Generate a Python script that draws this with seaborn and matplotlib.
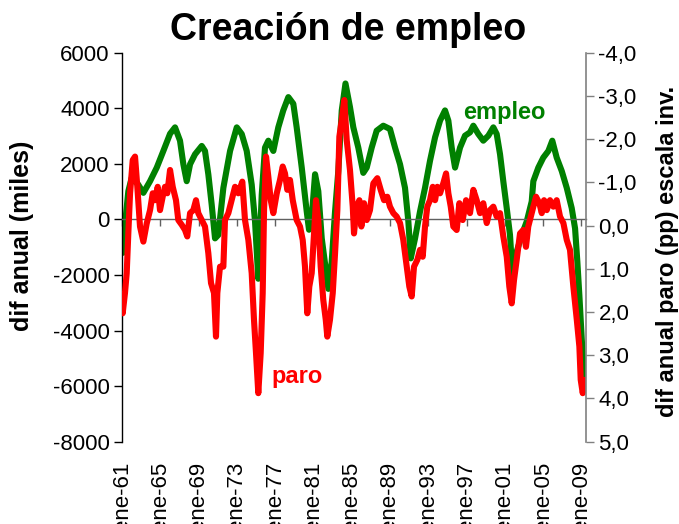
import matplotlib
matplotlib.use("Agg")
import matplotlib.pyplot as plt
import seaborn as sns
import pandas as pd

# ---------------- data ----------------
emp_t = [1961.00, 1961.10, 1961.31, 1961.66, 1962.01, 1962.67, 1963.23, 1963.93, 1964.63, 1965.32,
         1966.02, 1966.54, 1967.06, 1967.41, 1967.76, 1968.11, 1968.63, 1969.33, 1969.67, 1970.02,
         1970.37, 1970.72, 1971.06, 1971.59, 1972.29, 1972.99, 1973.51, 1974.03, 1974.55, 1974.90,
         1975.24, 1975.60, 1975.94, 1976.29, 1976.81, 1977.33, 1977.85, 1978.38, 1978.90, 1979.25,
         1979.78, 1980.30, 1980.54, 1980.82, 1981.17, 1981.51, 1981.87, 1982.56, 1982.91, 1983.26,
         1983.60, 1983.96, 1984.35, 1984.82, 1985.17, 1985.69, 1986.21, 1986.57, 1987.09, 1987.61,
         1988.30, 1989.00, 1989.53, 1990.05, 1990.57, 1990.92, 1991.17, 1991.62, 1992.14, 1992.66,
         1993.18, 1993.71, 1994.23, 1994.75, 1995.10, 1995.45, 1995.80, 1996.32, 1996.84, 1997.36,
         1997.71, 1998.23, 1998.75, 1999.28, 1999.80, 2000.15, 2000.50, 2000.84, 2001.20, 2001.54,
         2001.83, 2002.24, 2002.77, 2003.29, 2003.81, 2003.98, 2004.50, 2005.02, 2005.55, 2005.96,
         2006.42, 2006.95, 2007.47, 2007.99, 2008.34, 2008.58, 2008.79, 2009.04, 2009.28, 2009.38]
emp_v = [-1000, -1200, -180, 1020, 1500, 1270, 960, 1380, 1870, 2470,
         3090, 3320, 2840, 1990, 1380, 1990, 2350, 2650, 2470, 1625,
         535, -680, -556, 1140, 2470, 3320, 3080, 2470, 1260, -73,
         -2135, 900, 2590, 2840, 2470, 3320, 3930, 4410, 4170, 3320,
         1870, 290, -370, 50, 1630, 1020, -680, -2500, -1530, 290,
         1745, 3930, 4900, 4050, 3320, 2590, 1680, 1870, 2590, 3200,
         3380, 3260, 2590, 1990, 1140, -70, -1400, -680, 290, 1140,
         2110, 2960, 3560, 3930, 3560, 2590, 1870, 2590, 3020, 3140,
         3380, 3080, 2840, 3020, 3320, 3080, 2350, 1380, 410, -556,
         -2135, -1160, -556, -70, 650, 1380, 1870, 2230, 2470, 2840,
         2230, 1745, 1140, 410, -320, -1530, -2740, -4320, -5650, -5900]

paro_t = [1961.00, 1961.07, 1961.31, 1961.49, 1961.66, 1961.84, 1962.12, 1962.36, 1962.60, 1962.88,
          1963.23, 1963.58, 1963.93, 1964.21, 1964.45, 1964.73, 1964.97, 1965.25, 1965.49, 1965.73,
          1966.02, 1966.30, 1966.64, 1966.88, 1967.24, 1967.58, 1967.82, 1968.11, 1968.45, 1968.73,
          1968.97, 1969.33, 1969.67, 1970.02, 1970.30, 1970.61, 1970.82, 1970.96, 1971.24, 1971.59,
          1971.76, 1972.11, 1972.46, 1972.81, 1973.15, 1973.57, 1973.85, 1974.20, 1974.55, 1974.79,
          1975.00, 1975.24, 1975.49, 1975.70, 1975.84, 1976.05, 1976.29, 1976.54, 1976.81, 1977.17,
          1977.51, 1977.79, 1978.03, 1978.27, 1978.55, 1978.84, 1979.25, 1979.60, 1979.88, 1980.12,
          1980.36, 1980.57, 1980.82, 1981.06, 1981.27, 1981.51, 1981.76, 1982.03, 1982.29, 1982.45,
          1982.73, 1983.02, 1983.26, 1983.50, 1983.71, 1983.96, 1984.23, 1984.48, 1984.82, 1985.11,
          1985.24, 1985.52, 1985.80, 1986.01, 1986.29, 1986.57, 1986.91, 1987.26, 1987.68, 1988.03,
          1988.38, 1988.72, 1989.00, 1989.35, 1989.70, 1990.05, 1990.39, 1990.75, 1991.02, 1991.27,
          1991.51, 1991.86, 1992.14, 1992.42, 1992.66, 1992.90, 1993.18, 1993.47, 1993.71, 1993.95,
          1994.23, 1994.57, 1994.86, 1995.10, 1995.35, 1995.62, 1995.97, 1996.25, 1996.60, 1996.95,
          1997.36, 1997.71, 1998.06, 1998.41, 1998.75, 1999.11, 1999.45, 1999.80, 2000.15, 2000.50,
          2000.84, 2001.20, 2001.47, 2001.72, 2001.96, 2002.24, 2002.59, 2002.93, 2003.21, 2003.45,
          2003.71, 2003.98, 2004.26, 2004.61, 2004.86, 2005.10, 2005.38, 2005.72, 2006.07, 2006.42,
          2006.77, 2007.12, 2007.47, 2007.81, 2008.16, 2008.52, 2008.79, 2008.93, 2009.14, 2009.38]
paro_v = [1.60, 2.03, 1.56, 1.10, 0.17, -0.75, -1.52, -1.60, -0.90, 0.02,
          0.37, -0.05, -0.36, -0.75, -0.59, -0.90, -0.36, -0.67, -0.90, -0.75,
          -1.29, -0.90, -0.59, -0.13, -0.02, 0.10, 0.25, -0.29, -0.36, -0.59,
          -0.29, -0.13, 0.02, 0.64, 1.33, 1.56, 2.57, 1.56, 0.95, 0.95,
          -0.13, -0.29, -0.59, -0.90, -0.75, -1.02, -0.13, 0.33, 1.10, 2.18,
          2.95, 3.88, 2.95, 1.56, -0.36, -1.60, -1.13, -0.59, -0.29, -0.75,
          -1.06, -1.37, -1.21, -0.83, -1.06, -0.59, -0.13, 0.02, 0.33, 0.95,
          2.03, 1.41, 1.10, 0.18, -0.59, -0.13, 0.95, 1.72, 2.18, 2.57,
          2.18, 1.56, 0.64, -0.36, -2.06, -2.45, -2.91, -1.98, -1.29, -0.44,
          0.18, -0.44, -0.59, 0.02, -0.52, -0.13, -0.36, -0.98, -1.10, -0.83,
          -0.59, -0.67, -0.44, -0.29, -0.21, -0.06, 0.33, 0.95, 1.41, 1.64,
          0.95, 0.79, 0.56, 0.72, 0.02, -0.44, -0.59, -0.90, -0.59, -0.90,
          -0.75, -0.98, -1.21, -0.75, -0.44, 0.02, 0.10, -0.52, -0.13, -0.59,
          -0.29, -0.83, -0.59, -0.29, -0.52, -0.06, -0.36, -0.44, -0.21, -0.29,
          0.25, 0.72, 1.41, 1.80, 1.26, 0.79, 0.18, 0.10, 0.49, 0.02,
          -0.21, -0.44, -0.67, -0.52, -0.29, -0.59, -0.36, -0.59, -0.44, -0.59,
          -0.21, -0.06, 0.33, 0.56, 1.41, 2.18, 2.80, 3.57, 3.88, 3.57]

year_ticks = [1961, 1965, 1969, 1973, 1977, 1981, 1985, 1989, 1993, 1997, 2001, 2005, 2009]
year_labels = ["ene-61", "ene-65", "ene-69", "ene-73", "ene-77", "ene-81", "ene-85",
               "ene-89", "ene-93", "ene-97", "ene-01", "ene-05", "ene-09"]
left_ticks = [6000, 4000, 2000, 0, -2000, -4000, -6000, -8000]
left_labels = ["6000", "4000", "2000", "0", "-2000", "-4000", "-6000", "-8000"]
right_ticks = [-4, -3, -2, -1, 0, 1, 2, 3, 4, 5]
right_labels = ["-4,0", "-3,0", "-2,0", "-1,0", "0,0", "1,0", "2,0", "3,0", "4,0", "5,0"]

title = "Creación de empleo"
left_title = "dif anual (miles)"
right_title = "dif anual paro (pp) escala inv."

# ---------------- style ----------------
sns.set_style("white")
plt.rcParams['font.family'] = ['Liberation Sans', 'DejaVu Sans']
plt.rcParams['text.color'] = 'black'
plt.rcParams['axes.labelcolor'] = 'black'
plt.rcParams['xtick.color'] = 'black'
plt.rcParams['ytick.color'] = 'black'

GREEN = "#008000"
RED = "#FF0000"

fig = plt.figure(figsize=(6.79, 5.24), dpi=100)
ax = fig.add_axes([0.1797, 0.1574, 0.6833, 0.7415])
ax.set_facecolor("none")

emp_df = pd.DataFrame({"t": emp_t, "v": emp_v})
paro_df = pd.DataFrame({"t": paro_t, "v": paro_v})

sns.lineplot(data=emp_df, x="t", y="v", ax=ax, color=GREEN, linewidth=4.4,
             solid_joinstyle="round", solid_capstyle="round")
ax.set_xlim(1961, 2009.48)
ax.set_ylim(-8000, 6000)

ax2 = ax.twinx()
sns.lineplot(data=paro_df, x="t", y="v", ax=ax2, color=RED, linewidth=4.4,
             solid_joinstyle="round", solid_capstyle="round")
ax2.set_ylim(5, -4)
ax2.set_xlim(1961, 2009.48)

# left axis
ax.set_yticks(left_ticks, left_labels)
ax.tick_params(axis="y", direction="out", length=6, width=1, color="black",
               labelcolor="black", labelsize=16, pad=3, left=True)
for s in ["top", "right"]:
    ax.spines[s].set_visible(False)
ax.spines["left"].set_color("black")
ax.spines["left"].set_linewidth(1)
# zero line acting as category axis, with its tick marks
ax.spines["bottom"].set_position(("data", 0))
ax.spines["bottom"].set_color("#606060")
ax.spines["bottom"].set_linewidth(1)
ax.set_xticks(year_ticks)
ax.tick_params(axis="x", direction="out", length=5, width=1, color="#606060",
               labelbottom=False, bottom=True)
ax.set_xlabel("")
ax.set_ylabel(left_title, fontsize=18, fontweight="bold", color="black")
ax.yaxis.set_label_coords(-0.190, 0.53)

# right axis
ax2.set_yticks(right_ticks, right_labels)
ax2.tick_params(axis="y", direction="out", length=6, width=1, color="#808080",
                labelcolor="black", labelsize=16, pad=3, right=True)
for s in ["top", "left", "bottom"]:
    ax2.spines[s].set_visible(False)
ax2.spines["right"].set_color("#808080")
ax2.spines["right"].set_linewidth(1.2)
ax2.set_ylabel(right_title, fontsize=17, fontweight="bold", color="black")
ax2.yaxis.set_label_coords(1.150, 0.49)

# bottom labels (category labels at the foot of the plot)
ax2.xaxis.set_visible(True)
ax2.set_xticks(year_ticks, year_labels, rotation=90)
ax2.tick_params(axis="x", length=0, labelsize=16, labelcolor="black", pad=14.5,
                bottom=True, labelbottom=True)
ax2.set_xlabel("")

# series labels
ax.text(2000.9, 3850, "empleo", color=GREEN, fontsize=17, fontweight="bold",
        ha="center", va="center")
ax.text(1979.3, -5650, "paro", color=RED, fontsize=17, fontweight="bold",
        ha="center", va="center")

fig.text(348 / 679, 1 - 30 / 524, title, fontsize=27, fontweight="bold",
         ha="center", va="center", color="black")

fig.savefig("out.png", dpi=100)
